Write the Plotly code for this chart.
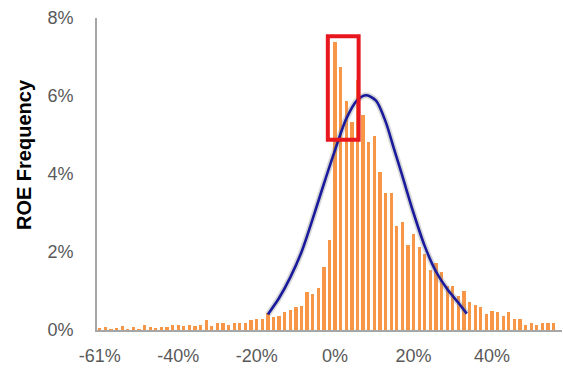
import plotly.graph_objects as go

# ---- data ----
bin_pos = list(range(82))
roe_freq = [0.04, 0.07, 0.02, 0.04, 0.09, 0.02, 0.07, 0.02, 0.12, 0.07,
            0.04, 0.07, 0.07, 0.12, 0.12, 0.09, 0.12, 0.09, 0.14, 0.25,
            0.11, 0.19, 0.17, 0.14, 0.19, 0.17, 0.17, 0.25, 0.27, 0.27,
            0.44, 0.34, 0.36, 0.46, 0.51, 0.58, 0.62, 0.97, 0.92, 1.08,
            1.62, 2.31, 7.38, 6.74, 5.87, 5.34, 6.40, 5.52, 4.81, 4.98,
            4.05, 3.52, 3.52, 2.66, 2.76, 2.19, 2.45, 2.12, 1.96, 1.55,
            1.72, 1.49, 1.13, 1.14, 0.87, 1.01, 0.73, 0.65, 0.60, 0.42,
            0.50, 0.45, 0.37, 0.45, 0.29, 0.27, 0.12, 0.19, 0.12, 0.17,
            0.17, 0.19]

fit_x = [30.0, 32.0, 34.0, 36.0, 38.0, 40.0, 42.0, 44.0, 46.0, 47.6,
         49.3, 51.0, 52.5, 54.0, 56.0, 58.0, 60.0, 62.0, 64.0, 65.5]
fit_y = [0.40, 0.82, 1.35, 2.00, 2.85, 3.75, 4.62, 5.42, 5.90, 6.02,
         5.88, 5.35, 4.65, 3.95, 3.00, 2.15, 1.50, 1.05, 0.70, 0.42]

tick_pos = [0, 14, 28, 42, 56, 70]
tick_labels = ["-61%", "-40%", "-20%", "0%", "20%", "40%"]
y_ticks = [0, 2, 4, 6, 8]
y_labels = ["0%", "2%", "4%", "6%", "8%"]

highlight_x = [40.7, 46.2]
highlight_y = [4.88, 7.53]

FONT = "Liberation Sans, Arial, sans-serif"
GREY = "#595959"

fig = go.Figure()
fig.add_trace(go.Bar(x=bin_pos, y=roe_freq, width=0.58,
                     marker=dict(color="#f79646", line=dict(width=0)),
                     showlegend=False, hoverinfo="skip"))
fig.add_trace(go.Scatter(x=fit_x, y=fit_y, mode="lines",
                         line=dict(color="rgba(140,140,140,0.35)", width=6,
                                   shape="spline", smoothing=0.8),
                         showlegend=False, hoverinfo="skip"))
fig.add_trace(go.Scatter(x=fit_x, y=fit_y, mode="lines",
                         line=dict(color="#1a1a9c", width=2.6,
                                   shape="spline", smoothing=0.8),
                         showlegend=False, hoverinfo="skip"))

fig.add_shape(type="rect", xref="x", yref="y",
              x0=highlight_x[0], x1=highlight_x[1],
              y0=highlight_y[0], y1=highlight_y[1],
              line=dict(color="#e8161e", width=4), fillcolor="rgba(0,0,0,0)")

fig.add_annotation(text="<b>ROE Frequency</b>", xref="paper", yref="paper",
                   x=-0.157, y=0.564, xanchor="center", yanchor="middle",
                   textangle=-90, showarrow=False,
                   font=dict(family=FONT, size=20, color="#000000"))

fig.update_layout(
    width=563, height=374,
    margin=dict(l=97, r=1, t=18, b=44, autoexpand=False),
    paper_bgcolor="white", plot_bgcolor="white",
    font=dict(family=FONT, size=18, color=GREY),
    bargap=0,
    xaxis=dict(range=[-0.5, 82.5], tickvals=tick_pos, ticktext=tick_labels,
               showgrid=False, zeroline=False, showline=True, automargin=False,
               linecolor="#a6a6a6", linewidth=2, ticks="",
               ticklabelstandoff=8,
               tickfont=dict(family=FONT, size=18, color=GREY)),
    yaxis=dict(range=[0, 8], tickvals=y_ticks, ticktext=y_labels,
               showgrid=False, zeroline=False, showline=True, automargin=False,
               linecolor="#a6a6a6", linewidth=2, ticks="",
               ticklabelstandoff=18,
               tickfont=dict(family=FONT, size=18, color=GREY)),
)

fig.write_html("out.html",
               config={"displayModeBar": False},
               post_script="document.body.style.margin='0';document.body.style.overflow='hidden';")
